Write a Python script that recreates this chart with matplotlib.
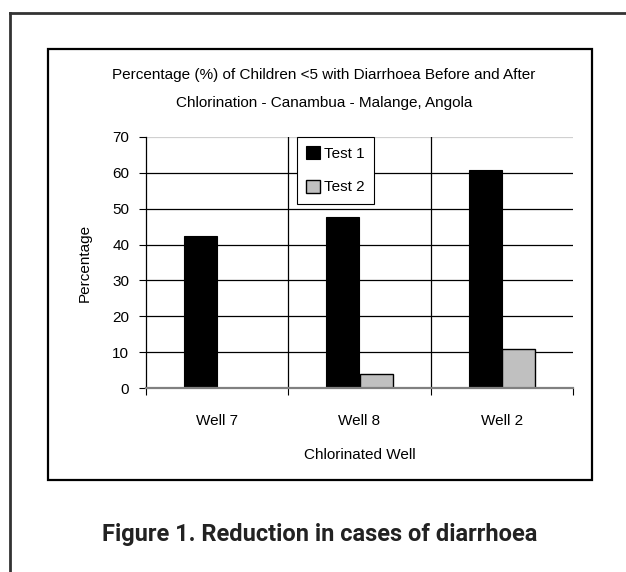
import matplotlib
matplotlib.use("Agg")
import matplotlib.pyplot as plt
import numpy as np
from matplotlib.lines import Line2D
from matplotlib.patches import Rectangle

categories = ["Well 7", "Well 8", "Well 2"]
test1 = [42.5, 47.7, 60.9]
test2 = [0.0, 3.8, 10.9]
y_ticks = [0, 10, 20, 30, 40, 50, 60, 70]

plt.rcParams["font.family"] = ["Liberation Sans", "DejaVu Sans"]

W, H = 626, 572
fig = plt.figure(figsize=(W / 100, H / 100), dpi=100)


def fx(px):
    return px / W


def fy(py):
    return 1 - py / H


# outer frame (clipped on right and bottom)
fig.add_artist(Line2D([fx(10), fx(10)], [fy(13), 0], color="#333333", lw=2, transform=fig.transFigure))
fig.add_artist(Line2D([fx(10), 1], [fy(13), fy(13)], color="#333333", lw=2, transform=fig.transFigure))

# inner chart box
fig.add_artist(Rectangle((fx(48), fy(480)), fx(592) - fx(48), fy(49) - fy(480),
                         fill=False, edgecolor="black", lw=1.6, transform=fig.transFigure))

ax = fig.add_axes([fx(146), fy(388), fx(573) - fx(146), fy(137) - fy(388)])

x = np.arange(len(categories))
bw = 0.232
ax.bar(x - bw / 2, test1, bw, color="black", edgecolor="black", lw=0.8, label="Test 1", zorder=2)
ax.bar(x + bw / 2, test2, bw, color="#c0c0c0", edgecolor="black", lw=1.0, label="Test 2", zorder=2)

ax.set_xlim(-0.5, len(categories) - 0.5)
ax.set_ylim(0, 70)
ax.set_yticks(y_ticks)
ax.tick_params(axis="y", direction="out", length=5, width=0.8, pad=7, labelsize=11)

# category boundaries: ticks at bottom, vertical lines inside
bounds = np.arange(len(categories) + 1) - 0.5
ax.set_xticks(bounds)
ax.set_xticklabels([])
ax.tick_params(axis="x", which="major", direction="out", length=5, width=0.8)
ax.set_xticks(x, minor=True)
ax.set_xticklabels(categories, minor=True)
ax.tick_params(axis="x", which="minor", length=0, pad=19, labelsize=11)
for b in bounds[1:-1]:
    ax.axvline(b, color="black", lw=0.9, zorder=1)

ax.set_axisbelow(True)
ax.yaxis.grid(True, color="black", lw=0.9)
ax.get_ygridlines()[-1].set_color("#d0d0d0")

for s in ["top", "right"]:
    ax.spines[s].set_visible(False)
ax.spines["left"].set_color("black")
ax.spines["left"].set_linewidth(0.9)
ax.spines["bottom"].set_color("#808080")
ax.spines["bottom"].set_linewidth(1.6)

ax.set_ylabel("Percentage", fontsize=11)
ax.yaxis.set_label_coords(-0.143, 0.5)
ax.yaxis.label.set_va("center")
ax.set_xlabel("Chlorinated Well", fontsize=11)
ax.xaxis.set_label_coords(0.5, -0.267)
ax.xaxis.label.set_va("center")

leg = ax.legend(loc="upper left", bbox_to_anchor=(fx(297), fy(137)), bbox_transform=fig.transFigure,
                fontsize=11, frameon=True, fancybox=False, shadow=False,
                handlelength=0.9, handleheight=0.9, handletextpad=0.3,
                labelspacing=1.25, borderpad=0.6, borderaxespad=0)
leg.get_frame().set_edgecolor("black")
leg.get_frame().set_linewidth(0.8)
leg.get_frame().set_alpha(1)

fig.text(fx(324), fy(74.5), "Percentage (%) of Children <5 with Diarrhoea Before and After",
         ha="center", va="center", fontsize=11)
fig.text(fx(324), fy(103), "Chlorination - Canambua - Malange, Angola",
         ha="center", va="center", fontsize=11)

fig.text(fx(320), fy(535), "Figure 1. Reduction in cases of diarrhoea", ha="center", va="center",
         fontsize=17, fontweight="bold", color="#222222", family=["Roboto", "DejaVu Sans"])

fig.savefig("out.png", dpi=100)
